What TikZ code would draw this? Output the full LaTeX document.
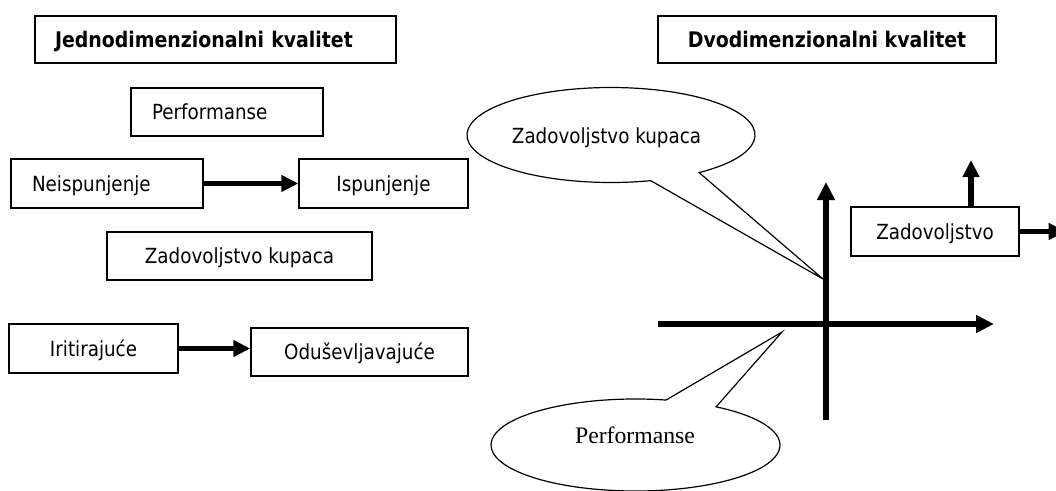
\documentclass[tikz,border=0pt]{standalone}
\usepackage{fontspec}
\newfontfamily\tah[FakeStretch=0.88]{DejaVu Sans}
\newfontfamily\tnr{Liberation Serif}
\usetikzlibrary{arrows.meta,shapes.geometric,calc}
\begin{document}
\begin{tikzpicture}[x=1pt,y=1pt,
  box/.style={draw, line width=1.4pt, inner sep=0pt, text height=15.2pt, text depth=0pt,
              font=\tah\fontsize{20.8}{25}\selectfont},
  titlebox/.style={box, text height=15.6pt, font=\tah\bfseries\fontsize{21.5}{26}\selectfont},
  leftbox/.style={box, align=left},
  arr/.style={line width=5.5pt, -{Triangle[length=17pt,width=16pt]}},
  axis/.style={line width=6pt, -{Triangle[length=18pt,width=17pt]}},
  bubble/.style={draw, line width=1.2pt, line join=miter},
  bubbletext/.style={inner sep=0pt, text height=15.2pt, text depth=0pt,
              font=\tah\fontsize{20.8}{25}\selectfont},
  serif/.style={inner sep=0pt, text height=15.7pt, text depth=0pt,
              font=\tnr\fontsize{23.7}{28}\selectfont}
]
\useasboundingbox (0,0) rectangle (1056,-490);
\clip (0,0) rectangle (1056,-490);

% left part
\node[titlebox, align=left, inner xsep=20pt, text width=321pt, minimum height=47pt] (T1) at (215.5,-39.5) {Jednodimenzionalni kvalitet};
\node[leftbox, inner xsep=21pt, text width=150pt, minimum height=48pt] (perf) at (227,-112) {Performanse};
\node[leftbox, inner xsep=21pt, text width=150pt, minimum height=49pt] (neisp) at (107,-183.5) {Neispunjenje};
\node[box, minimum width=169pt, minimum height=49pt] (isp) at (383.5,-183.5) {Ispunjenje};
\node[box, minimum width=265pt, minimum height=48pt] (zk) at (239.5,-256) {Zadovoljstvo kupaca};
\node[box, minimum width=169pt, minimum height=49pt] (irit) at (93.5,-348.5) {Iritiraju\'ce};
\node[box, minimum width=217pt, minimum height=48pt] (odus) at (359.5,-352) {Oduševljavajuće};

\draw[arr] (neisp.east) -- (isp.west);
\draw[arr] (irit.east) -- (irit.east -| odus.west);

% right part
\node[titlebox, minimum width=338pt, minimum height=47pt] (T2) at (827,-39.5) {Dvodimenzionalni kvalitet};
\node[box, minimum width=168pt, minimum height=49pt] (zad) at (935,-231.5) {Zadovoljstvo};

\coordinate (e1) at (611,-135);
\coordinate (e2) at (635.5,-445);
\coordinate (tip1) at (823,-279);
\coordinate (tip2) at (782,-332);
\node[bubbletext] (c1) at (606.5,-135.8) {Zadovoljstvo kupaca};
\node[serif] (c2) at (635,-436) {Performanse};

\draw[bubble] ($(e1)+(-52.3:144 and 47.5)$) arc[start angle=-52.3, end angle=286, x radius=144, y radius=47.5] -- (tip1) -- cycle;
\draw[bubble] ($(e2)+(77.8:144.5 and 46)$) arc[start angle=77.8, end angle=416.1, x radius=144.5, y radius=46] -- (tip2) -- cycle;

\coordinate (yb) at (826,-420);
\coordinate (yt) at (826,-182);
\coordinate (xl) at (658,-324);
\coordinate (xt) at (994,-324);
\draw[axis] (yb) -- (yt);
\draw[axis] (xl) -- (xt);

\coordinate (zu) at (971,-160);
\draw[arr] (zu |- zad.north) -- (zu);
\draw[arr] (zad.east) -- ++(46,0);
\end{tikzpicture}
\end{document}
